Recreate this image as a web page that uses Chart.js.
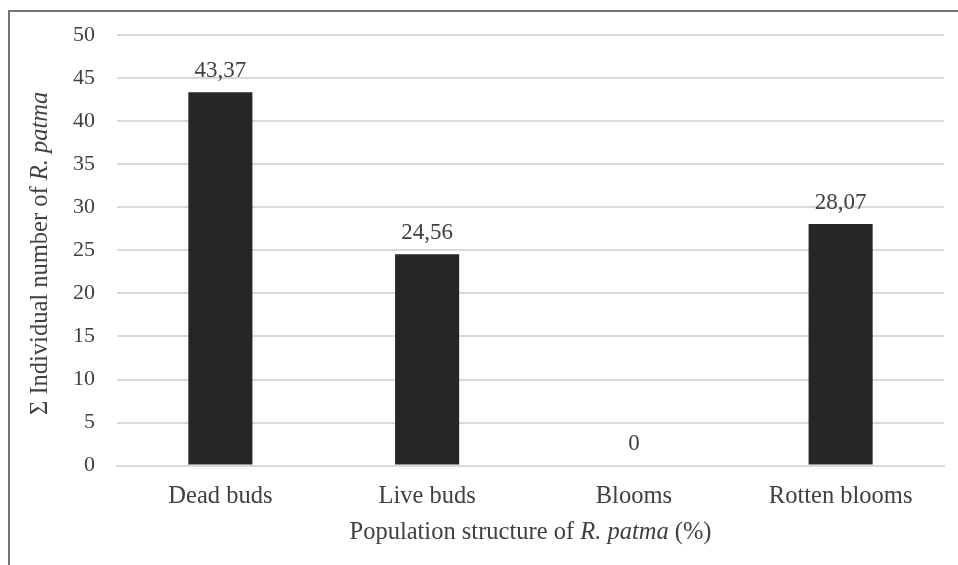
<!DOCTYPE html>
<html>
<head>
<meta charset="utf-8">
<script src="https://cdn.jsdelivr.net/npm/chart.js@4"></script>
<style>
  html, body { margin: 0; padding: 0; background: #fff; overflow: hidden; }
  #wrap { position: relative; width: 958px; height: 565px; }
  #frame { position: absolute; left: 8px; top: 10px; width: 2000px; height: 2000px;
           border: 2px solid #767676; box-sizing: border-box; }
  canvas { position: absolute; left: 0; top: 0; }
</style>
</head>
<body>
<div id="wrap">
  <div id="frame"></div>
  <canvas id="chart" width="958" height="565"></canvas>
</div>
<script>
const categories = ["Dead buds", "Live buds", "Blooms", "Rotten blooms"];
const values = [43.37, 24.56, 0, 28.07];
const valueLabels = ["43,37", "24,56", "0", "28,07"];
const yTicks = [0, 5, 10, 15, 20, 25, 30, 35, 40, 45, 50];

const serif = "'Liberation Serif', 'Times New Roman', serif";
const textColor = "#404040";

// draws a line of text made of plain and italic pieces, centred on (0,0)
function drawRich(ctx, parts, size) {
  let widths = parts.map(p => {
    ctx.font = (p.italic ? "italic " : "") + size + "px " + serif;
    return ctx.measureText(p.text).width;
  });
  let total = widths.reduce((a, b) => a + b, 0);
  let x = -total / 2;
  ctx.textBaseline = "middle";
  ctx.textAlign = "left";
  parts.forEach((p, i) => {
    ctx.font = (p.italic ? "italic " : "") + size + "px " + serif;
    ctx.fillText(p.text, x, 0);
    x += widths[i];
  });
}

const extras = {
  id: "extras",
  afterDatasetsDraw(chart) {
    const ctx = chart.ctx;
    const area = chart.chartArea;
    const meta = chart.getDatasetMeta(0);
    ctx.save();
    ctx.fillStyle = textColor;
    // value labels above the bars
    ctx.font = "23px " + serif;
    ctx.textAlign = "center";
    ctx.textBaseline = "bottom";
    meta.data.forEach((bar, i) => {
      ctx.fillText(valueLabels[i], bar.x, bar.y - 10);
    });
    // x axis title
    ctx.save();
    ctx.translate((area.left + area.right) / 2, 533);
    drawRich(ctx, [
      { text: "Population structure of " },
      { text: "R. patma", italic: true },
      { text: " (%)" }
    ], 24.5);
    ctx.restore();
    // y axis title
    ctx.save();
    ctx.translate(41, (area.top + area.bottom) / 2 + 3);
    ctx.rotate(-Math.PI / 2);
    drawRich(ctx, [
      { text: "Σ Individual number of " },
      { text: "R. patma", italic: true }
    ], 24.5);
    ctx.restore();
    ctx.restore();
  }
};

new Chart(document.getElementById("chart"), {
  type: "bar",
  data: {
    labels: categories,
    datasets: [{
      data: values,
      backgroundColor: "#262626",
      categoryPercentage: 0.62,
      barPercentage: 0.5
    }]
  },
  options: {
    responsive: false,
    animation: false,
    devicePixelRatio: 1,
    layout: { padding: { left: 51, top: 26, right: 14, bottom: 38 } },
    plugins: { legend: { display: false }, tooltip: { enabled: false } },
    scales: {
      x: {
        grid: { display: false, drawTicks: false },
        border: { display: true, color: "#d9d9d9", width: 2 },
        ticks: { color: textColor, font: { family: serif, size: 24.5 }, padding: 16 }
      },
      y: {
        min: 0,
        max: 50,
        afterBuildTicks(axis) { axis.ticks = yTicks.map(v => ({ value: v })); },
        grid: { color: "#d9d9d9", lineWidth: 2, drawTicks: false },
        border: { display: false },
        ticks: { color: textColor, font: { family: serif, size: 22 }, padding: 22 }
      }
    }
  },
  plugins: [extras]
});
</script>
</body>
</html>
